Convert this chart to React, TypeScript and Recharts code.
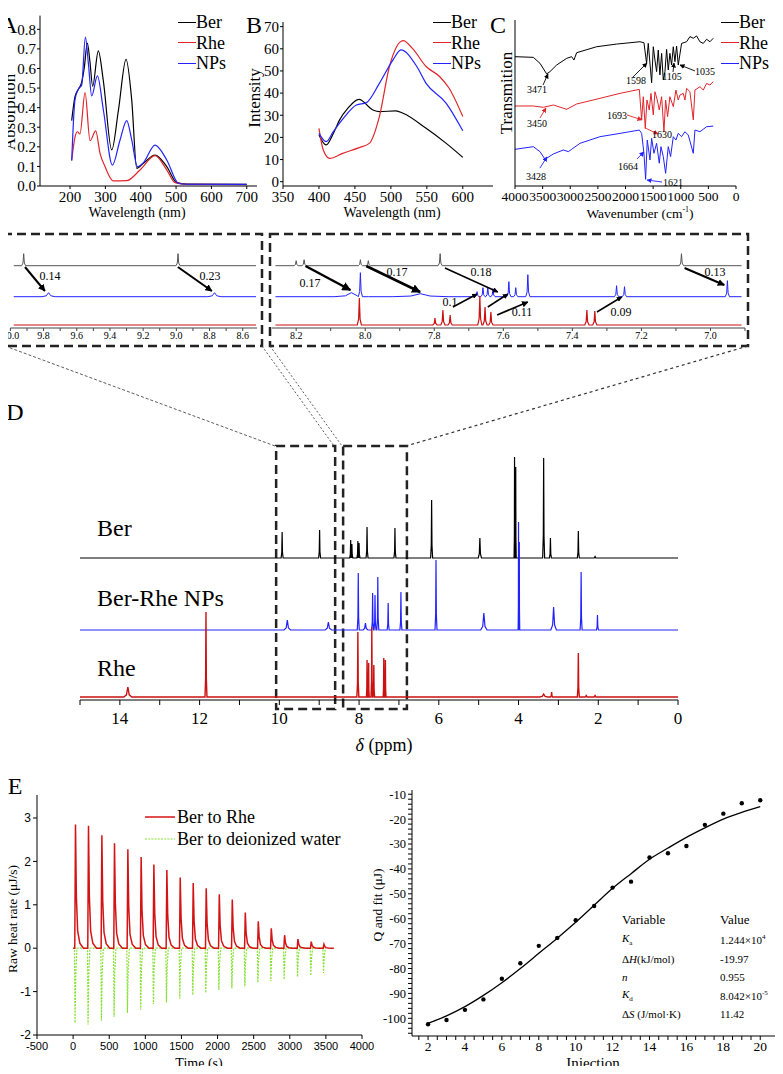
import React from 'react'
import { LineChart, ComposedChart, Line, XAxis, YAxis, ReferenceLine, ReferenceArea } from 'recharts'

const SERIF = '"Liberation Serif", "Times New Roman", serif'
const SANS = '"Liberation Sans", Arial, sans-serif'

const RED = '#e0262b'
const BLUE = '#2222ff'
const NMR_RED = '#cc1111'
const NMR_GREY = '#555555'
const ITC_RED = '#d41414'
const ITC_GREEN = '#88e035'

// A: UV-vis absorption (nm, abs)
const uvBer: [number, number][] = [
  [204.7, 0.334], [214, 0.456], [223.6, 0.494], [233, 0.53], [240, 0.6], [249, 0.73], [256, 0.64], [264, 0.51],
  [280, 0.69], [294, 0.54], [318, 0.184], [337, 0.388], [358.5, 0.647], [374.5, 0.44], [388.7, 0.09],
  [407.5, 0.116], [440.6, 0.158], [473.6, 0.099], [502, 0.017], [530, 0.01], [700, 0.008],
]
const uvRhe: [number, number][] = [
  [204.7, 0.13], [214, 0.25], [220.8, 0.277], [228, 0.266], [242.5, 0.477], [256.6, 0.231], [272.6, 0.281],
  [284.9, 0.167], [299, 0.099], [322.6, 0.026], [360, 0.027], [398, 0.082], [440.6, 0.155], [473.6, 0.082],
  [497, 0.017], [530, 0.009], [700, 0.007],
]
const uvNps: [number, number][] = [
  [204.7, 0.13], [214, 0.44], [223.6, 0.494], [233, 0.516], [243.4, 0.76], [251.9, 0.626], [261.3, 0.46],
  [277.4, 0.562], [294.3, 0.388], [319.8, 0.107], [341.5, 0.235], [360.4, 0.334], [374.5, 0.235], [390.6, 0.099],
  [407.5, 0.119], [440.6, 0.209], [473.6, 0.133], [506.6, 0.014], [530, 0.009], [700, 0.008],
]
const uvTicks = [200, 300, 400, 500, 600, 700]
const uvYTicks = [0, 0.1, 0.2, 0.3, 0.4, 0.5, 0.6, 0.7, 0.8]

// B: fluorescence (nm, intensity)
const flBer: [number, number][] = [
  [400, 21.1], [410, 16.6], [420, 21.8], [428.7, 27.9], [440, 33.1], [455.6, 37.2], [475, 32.4], [484, 31.6],
  [507, 32], [517, 30.9], [549, 24.1], [577, 17.3], [600, 11],
]
const flRhe: [number, number][] = [
  [400, 24.1], [406, 14.3], [415, 10.5], [433, 12.8], [456, 15.4], [470, 17.3], [484, 29.4], [498, 52],
  [517, 63.7], [530, 60.2], [549, 52], [568, 47.4], [581, 42.2], [600, 29.4],
]
const flNps: [number, number][] = [
  [400, 21.8], [410, 18.1], [420, 22.6], [433, 28.2], [452, 34.6], [466, 35.7], [484, 44.4], [503, 55],
  [514, 59.5], [536, 52], [549, 44.4], [577, 35.4], [600, 23],
]
const flTicks = [350, 400, 450, 500, 550, 600]
const flYTicks = [0, 10, 20, 30, 40, 50, 60, 70]

// C: FTIR (cm-1, transmission, arbitrary offset units)
const irBer: [number, number][] = [
  [4000, 77.9], [3668, 77.5], [3548, 73.9], [3427, 67.5], [3367, 68.9], [3246, 72.9], [3065, 76.9], [2975, 77.9],
  [2933, 75.9], [2884, 80.3], [2522, 83.9], [2160, 85.5], [1738, 86.9], [1666, 86.3], [1618, 73.9], [1588, 85.9],
  [1527, 62.2], [1497, 83.9], [1467, 75.9], [1437, 68.9], [1407, 81.9], [1377, 66.9], [1346, 79.9], [1316, 63.9],
  [1286, 68.9], [1256, 82.3], [1226, 69.9], [1196, 79.9], [1166, 72.9], [1135, 83.9], [1105, 74.9], [1075, 84.3],
  [1045, 72.9], [985, 85.9], [894, 86.9], [834, 90], [773, 89], [713, 90.4], [653, 86.9], [592, 85.9],
  [532, 88.4], [472, 86.9], [412, 89],
]
const irRhe: [number, number][] = [
  [4000, 48.2], [3668, 48.2], [3487, 47.4], [3306, 48.8], [3065, 46.2], [2884, 49.4], [2462, 52.8], [2100, 55.8],
  [1750, 58.2], [1708, 39.8], [1678, 53.8], [1642, 34.7], [1612, 51.8], [1570, 45.8], [1539, 55.8], [1497, 42.8],
  [1467, 56.8], [1425, 51.8], [1389, 45.8], [1346, 53.8], [1304, 32.7], [1274, 51.8], [1238, 41.8], [1196, 53.8],
  [1135, 47.8], [1087, 57.8], [1045, 51.8], [1015, 54.8], [955, 55.8], [924, 51.8], [894, 58.8], [834, 56.8],
  [773, 39.8], [743, 57.8], [653, 59.8], [592, 57.8], [532, 61.8], [472, 60.8], [412, 62.9],
]
const irNps: [number, number][] = [
  [4000, 22.1], [3668, 23.7], [3548, 20.7], [3457, 16.1], [3306, 19.3], [3125, 21.7], [3035, 20.7], [2975, 22.1],
  [2824, 25.7], [2462, 29.7], [2100, 31.7], [1750, 33.7], [1708, 31.7], [1666, 19.7], [1636, 4], [1606, 27.7],
  [1557, 15.7], [1527, 28.7], [1485, 19.7], [1437, 25.7], [1389, 13.7], [1358, 23.7], [1316, 17.7], [1274, 7.6],
  [1226, 23.7], [1184, 17.7], [1135, 29.7], [1087, 27.7], [1045, 31.7], [985, 29.7], [924, 32.7], [864, 30.7],
  [773, 19.7], [743, 33.7], [653, 32.7], [532, 35.7], [412, 36.1],
]
const irTicks = [0, 500, 1000, 1500, 2000, 2500, 3000, 3500, 4000]
// [label, x1, y1, x2, y2, series]
const irNotes: [string, number, number, number, number, string][] = [
  ['3471', 3493, 60.8, 3403, 67.5, 'k'],
  ['1598', 1864, 65.7, 1611, 74.1, 'k'],
  ['1105', 1140, 68.7, 1122, 74.1, 'k'],
  ['1035', 742, 69.3, 1014, 72.9, 'k'],
  ['3450', 3548, 41, 3439, 47, 'r'],
  ['1693', 1973, 42.8, 1701, 39.8, 'r'],
  ['1630', 1647, 35, 1412, 31.3, 'r'],
  ['3428', 3548, 10.8, 3421, 17.5, 'b'],
  ['1664', 1792, 16.3, 1665, 20.5, 'b'],
  ['1621', 1339, 2.4, 1611, 3.6, 'b'],
]
const irNoteText: [string, number, number][] = [
  ['3471', 537, 90], ['1598', 636, 81], ['1105', 672, 77], ['1035', 705, 72],
  ['3450', 537, 124], ['1693', 617, 116], ['1630', 662, 135],
  ['3428', 536, 177], ['1664', 628, 167], ['1621', 673, 183],
]

// D: 1H NMR peaks [ppm, height, half-width?]
type Peak = [number, number, number?]
const nmrBer: Peak[] = [
  [9.93, 26], [8.99, 28], [8.21, 18], [8.18, 14], [8.03, 17], [8.0, 15], [7.8, 31], [7.1, 30], [6.18, 58],
  [4.97, 20, 0.04], [4.1, 101, 0.012], [4.07, 91, 0.012], [3.37, 100], [3.2, 20], [2.5, 27], [2.08, 2],
]
const nmrNps: Peak[] = [
  [9.8, 10, 0.08], [8.77, 8, 0.08], [8.02, 57], [7.84, 7, 0.06], [7.66, 37], [7.6, 35], [7.53, 53], [7.27, 27],
  [6.95, 38], [6.07, 70], [4.87, 17, 0.08], [4.0, 108, 0.01], [3.98, 88, 0.01], [3.12, 23, 0.07], [2.43, 58],
  [2.02, 15],
]
const nmrRhe: Peak[] = [
  [13.8, 10, 0.1], [11.84, 85], [8.03, 65], [7.8, 37, 0.015], [7.76, 34, 0.015], [7.68, 70, 0.02], [7.63, 32, 0.02],
  [7.38, 39, 0.015], [7.34, 37, 0.015], [3.37, 3, 0.1], [3.17, 5], [2.5, 44], [2.3, 2], [2.08, 2],
]
const nmrTicks = [0, 1, 2, 3, 4, 5, 6, 7, 8, 9, 10, 11, 12, 13, 14, 15]

// inset spectra
const insetLeftBer: Peak[] = [[9.92, 12, 0.012], [8.99, 12, 0.012]]
const insetLeftNps: Peak[] = [[9.77, 4, 0.04], [8.77, 4, 0.04]]
const insetLeftRhe: Peak[] = []
const insetRightBer: Peak[] = [[8.2, 5], [8.177, 6], [8.014, 6], [7.991, 5], [7.783, 12], [7.084, 12]]
const insetRightNps: Peak[] = [
  [8.04, 4, 0.05], [8.014, 24], [7.84, 3, 0.08], [7.676, 5], [7.659, 9], [7.645, 9], [7.63, 8], [7.584, 15],
  [7.564, 9], [7.529, 22], [7.272, 11], [7.249, 10], [6.951, 16],
]
const insetRightRhe: Peak[] = [
  [8.017, 27], [7.798, 7], [7.775, 15], [7.754, 10], [7.668, 29], [7.653, 18], [7.636, 13], [7.358, 15], [7.335, 14],
]
const insetLeftTicks = [8.6, 8.7, 8.8, 8.9, 9.0, 9.1, 9.2, 9.3, 9.4, 9.5, 9.6, 9.7, 9.8, 9.9, 10.0]
const insetRightTicks = [6.9, 7.0, 7.1, 7.2, 7.3, 7.4, 7.5, 7.6, 7.7, 7.8, 7.9, 8.0, 8.1, 8.2]
// [x1, y1, x2, y2, width]
const leftShiftArrows: [number, number, number, number, number][] = [
  [9.912, 61, 9.792, 37, 2], [8.991, 61, 8.786, 37, 2],
]
const rightShiftArrows: [number, number, number, number, number][] = [
  [8.173, 62, 8.043, 38, 2.5], [7.997, 62, 7.841, 36, 2.5], [7.769, 60, 7.616, 36, 1.5], [7.746, 21, 7.676, 34, 1.5],
  [7.645, 21, 7.587, 34, 1.5], [7.618, 13, 7.529, 26, 1.8], [7.329, 16, 7.257, 31, 1.5], [7.075, 60, 6.96, 43, 2],
]
const shiftLabels: [string, number, number][] = [
  ['0.14', 50, 276], ['0.23', 210, 276], ['0.17', 310, 283], ['0.17', 397, 272], ['0.18', 481, 272],
  ['0.1', 450, 302], ['0.11', 522, 312], ['0.09', 621, 312], ['0.13', 715, 272],
]

// E: ITC raw data
const itcTimes = [23, 203, 388, 563, 748, 932, 1108, 1288, 1473, 1653, 1833, 2014, 2194, 2374, 2554, 2734, 2918, 3103, 3287, 3463]
const itcRhe = [2.85, 2.82, 2.6, 2.42, 2.28, 2.1, 1.93, 1.8, 1.63, 1.5, 1.38, 1.24, 1.12, 0.82, 0.62, 0.46, 0.3, 0.21, 0.15, 0.09]
const itcWater = [-1.72, -1.76, -1.67, -1.58, -1.49, -1.42, -1.29, -1.25, -1.16, -1.08, -1.03, -0.96, -0.93, -0.88, -0.79, -0.76, -0.72, -0.66, -0.63, -0.57]
const itcTicks = [-500, 0, 500, 1000, 1500, 2000, 2500, 3000, 3500, 4000]
const itcYTicks = [-2, -1, 0, 1, 2, 3]

// E: integrated heats
const injection = [2, 3, 4, 5, 6, 7, 8, 9, 10, 11, 12, 13, 14, 15, 16, 17, 18, 19, 20]
const heatQ = [-102.4, -100.7, -96.6, -92.4, -84.1, -77.9, -70.9, -67.7, -60.6, -54.9, -47.5, -45.1, -35.4, -33.7, -30.8, -22.3, -17.8, -13.6, -12.4]
const heatFit = [-102, -99, -95.3, -90.8, -85.7, -80, -73.9, -67.8, -61.4, -54.6, -47.8, -41.9, -36.1, -31.6, -27.3, -23.5, -20, -17.3, -15]

// peak outline as fraction of half-width / height
const PEAK_SHAPE = [[-1, 0], [-0.35, 0.22], [0, 1], [0.35, 0.22], [1, 0]]
const RHE_SHAPE = [[0, 0], [10, 1], [22, 0.42], [40, 0.14], [70, 0.04], [120, 0]]
const WATER_SHAPE = [[-4, 0], [4, 1], [14, 0.35], [30, 0]]

const toXY = (arr: [number, number][]) => arr.map(([x, y]) => ({ x, y }))

function spectrum(peaks: Peak[], base: number, from: number, to: number, w0: number) {
  const pts = [{ x: from, y: base }, { x: to, y: base }]
  peaks.forEach(([p, h, w]) => {
    const hw = w ?? w0
    PEAK_SHAPE.forEach(([dx, f]) => pts.push({ x: p + dx * hw, y: base + f * h }))
  })
  return pts.sort((a, b) => a.x - b.x)
}

function thermogram(times: number[], amps: number[], shape: number[][], from: number, to: number) {
  const pts = [{ x: from, y: 0 }]
  times.forEach((t, i) => shape.forEach(([dt, f]) => pts.push({ x: t + dt, y: f * amps[i] })))
  pts.push({ x: to, y: 0 })
  return pts
}

const tick = (size: number, family = SERIF) => ({ fontSize: size, fontFamily: family, fill: '#000' })

function Txt({ x, y, size, children, anchor = 'middle', rotate, italic, family = SERIF }: any) {
  const tx = anchor === 'middle' ? '-50%' : anchor === 'end' ? '-100%' : '0'
  return (
    <div
      style={{
        position: 'absolute', left: x, top: y, lineHeight: 1, whiteSpace: 'nowrap', color: '#000',
        transform: `translate(${tx}, -50%)${rotate ? ` rotate(${rotate}deg)` : ''}`,
        fontSize: size, fontFamily: family, fontStyle: italic ? 'italic' : 'normal',
      }}
    >
      {children}
    </div>
  )
}

function Legend3({ x, y }: { x: number; y: number }) {
  const rows: [string, string][] = [['Ber', '#000'], ['Rhe', RED], ['NPs', BLUE]]
  return (
    <>
      {rows.map(([name, color], i) => (
        <div key={name} style={{ position: 'absolute', left: x, top: y + i * 20.5, display: 'flex', alignItems: 'center', transform: 'translateY(-50%)' }}>
          <div style={{ width: 18, borderTop: `1.5px solid ${color}` }} />
          <span style={{ fontFamily: SERIF, fontSize: 18, lineHeight: 1 }}>{name}</span>
        </div>
      ))}
    </>
  )
}

const irColor: Record<string, string> = { k: '#000', r: RED, b: BLUE }

export default function App() {
  const berD = spectrum(nmrBer, 142, 0, 15, 0.025)
  const npsD = spectrum(nmrNps, 70, 0, 15, 0.025)
  const rheD = spectrum(nmrRhe, 3, 0, 15, 0.025)
  const lBer = spectrum(insetLeftBer, 62.3, 8.52, 9.98, 0.012)
  const lNps = spectrum(insetLeftNps, 31.3, 8.52, 9.98, 0.04)
  const lRhe = spectrum(insetLeftRhe, 3, 8.52, 9.98, 0.01)
  const rBer = spectrum(insetRightBer, 62.3, 6.91, 8.26, 0.006)
  const rNps = spectrum(insetRightNps, 31.3, 6.91, 8.26, 0.006)
  const rRhe = spectrum(insetRightRhe, 3, 6.91, 8.26, 0.006)
  const rheITC = thermogram(itcTimes, itcRhe, RHE_SHAPE, 0, 3610)
  const waterITC = thermogram(itcTimes, itcWater, WATER_SHAPE, 0, 3500)
  const qPts = injection.map((x, i) => ({ x, y: heatQ[i] }))
  const fitPts = injection.map((x, i) => ({ x, y: heatFit[i] }))
  const tenths = (v: number) => (Math.round(v * 10) % 2 === 0 ? v.toFixed(1) : '')

  return (
    <div style={{ position: 'relative', width: 783, height: 1074, margin: -8, background: '#fff', overflow: 'hidden', fontFamily: SERIF }}>
      <style>{`
        .serif svg text { font-family: "Liberation Serif", "Times New Roman", serif !important; }
        .sans svg text { font-family: "Liberation Sans", Arial, sans-serif !important; }
      `}</style>
      <svg width={0} height={0} style={{ position: 'absolute' }}>
        <defs>
          <marker id="ah-k" viewBox="0 0 10 10" refX="9" refY="5" markerWidth="3.6" markerHeight="3.6" orient="auto">
            <path d="M0,0 L10,5 L0,10 z" fill="#000" />
          </marker>
          {Object.entries(irColor).map(([k, c]) => (
            <marker key={k} id={`ah-s-${k}`} viewBox="0 0 10 10" refX="9" refY="5" markerWidth="5" markerHeight="5" markerUnits="userSpaceOnUse" orient="auto">
              <path d="M0,0 L10,5 L0,10 z" fill={c} />
            </marker>
          ))}
        </defs>
      </svg>

      {/* A */}
      <div className="serif" style={{ position: 'absolute', left: 0, top: 0 }}>
        <LineChart width={262} height={220} margin={{ top: 15.6, right: 5, bottom: 0, left: 0 }}>
          <XAxis type="number" dataKey="x" domain={[115, 729]} ticks={uvTicks} allowDataOverflow height={34} stroke="#000" tick={tick(15)} tickSize={3} interval={0} />
          <YAxis type="number" domain={[0, 0.87]} ticks={uvYTicks} tickFormatter={(v: number) => v.toFixed(1)} allowDataOverflow width={40} stroke="#000" tick={tick(15)} tickSize={3} tickMargin={1} interval={0} />
          <Line data={toXY(uvBer)} dataKey="y" type="monotone" stroke="#000" strokeWidth={1.2} dot={false} activeDot={false} isAnimationActive={false} />
          <Line data={toXY(uvRhe)} dataKey="y" type="monotone" stroke={RED} strokeWidth={1.2} dot={false} activeDot={false} isAnimationActive={false} />
          <Line data={toXY(uvNps)} dataKey="y" type="monotone" stroke={BLUE} strokeWidth={1.2} dot={false} activeDot={false} isAnimationActive={false} />
        </LineChart>
      </div>

      {/* B */}
      <div className="serif" style={{ position: 'absolute', left: 243, top: 0 }}>
        <LineChart width={250} height={220} margin={{ top: 22, right: 0, bottom: 0, left: 0 }}>
          <XAxis type="number" dataKey="x" domain={[350, 642]} ticks={flTicks} allowDataOverflow height={34} stroke="#000" tick={tick(15)} tickSize={3} interval={0} />
          <YAxis type="number" domain={[-1.94, 72.1]} ticks={flYTicks} allowDataOverflow width={40} stroke="#000" tick={tick(15)} tickSize={3} tickMargin={1} interval={0} />
          <Line data={toXY(flBer)} dataKey="y" type="monotone" stroke="#000" strokeWidth={1.2} dot={false} activeDot={false} isAnimationActive={false} />
          <Line data={toXY(flRhe)} dataKey="y" type="monotone" stroke={RED} strokeWidth={1.2} dot={false} activeDot={false} isAnimationActive={false} />
          <Line data={toXY(flNps)} dataKey="y" type="monotone" stroke={BLUE} strokeWidth={1.2} dot={false} activeDot={false} isAnimationActive={false} />
        </LineChart>
      </div>

      {/* C */}
      <div className="serif" style={{ position: 'absolute', left: 475, top: 0 }}>
        <LineChart width={267} height={220} margin={{ top: 20, right: 6, bottom: 0, left: 0 }}>
          <XAxis type="number" dataKey="x" domain={[0, 4000]} reversed ticks={irTicks} allowDataOverflow height={34} stroke="#000" tick={tick(13.5)} tickSize={3} interval={0} />
          <YAxis type="number" domain={[0, 100]} allowDataOverflow width={40} stroke="#000" tick={false} tickLine={false} />
          <Line data={toXY(irBer)} dataKey="y" type="linear" stroke="#000" strokeWidth={1} dot={false} activeDot={false} isAnimationActive={false} />
          <Line data={toXY(irRhe)} dataKey="y" type="linear" stroke={RED} strokeWidth={1} dot={false} activeDot={false} isAnimationActive={false} />
          <Line data={toXY(irNps)} dataKey="y" type="linear" stroke={BLUE} strokeWidth={1} dot={false} activeDot={false} isAnimationActive={false} />
          {irNotes.map(([label, x1, y1, x2, y2, s]) => (
            <ReferenceLine key={label} segment={[{ x: x1, y: y1 }, { x: x2, y: y2 }]} stroke={irColor[s]} strokeWidth={0.9} markerEnd={`url(#ah-s-${s})`} ifOverflow="visible" />
          ))}
        </LineChart>
      </div>

      {/* inset left */}
      <div className="serif" style={{ position: 'absolute', left: 0, top: 230 }}>
        <LineChart width={262} height={118} margin={{ top: 10, right: 5, bottom: 0, left: 10.4 }}>
          <XAxis type="number" dataKey="x" domain={[8.514, 10.0]} reversed ticks={insetLeftTicks} tickFormatter={tenths} allowDataOverflow height={20} stroke="#444" tick={tick(10)} tickSize={3} tickMargin={1} interval={0} />
          <YAxis type="number" domain={[0, 88]} hide allowDataOverflow />
          <Line data={lBer} dataKey="y" type="linear" stroke={NMR_GREY} strokeWidth={1} dot={false} activeDot={false} isAnimationActive={false} />
          <Line data={lNps} dataKey="y" type="linear" stroke={BLUE} strokeWidth={1} dot={false} activeDot={false} isAnimationActive={false} />
          <Line data={lRhe} dataKey="y" type="linear" stroke={NMR_RED} strokeWidth={1.2} dot={false} activeDot={false} isAnimationActive={false} />
          {leftShiftArrows.map(([x1, y1, x2, y2, w], i) => (
            <ReferenceLine key={i} segment={[{ x: x1, y: y1 }, { x: x2, y: y2 }]} stroke="#000" strokeWidth={w} markerEnd="url(#ah-k)" ifOverflow="visible" />
          ))}
        </LineChart>
      </div>

      {/* inset right */}
      <div className="serif" style={{ position: 'absolute', left: 262, top: 230 }}>
        <LineChart width={488} height={118} margin={{ top: 10, right: 5, bottom: 0, left: 10 }}>
          <XAxis type="number" dataKey="x" domain={[6.90, 8.27]} reversed ticks={insetRightTicks} tickFormatter={tenths} allowDataOverflow height={20} stroke="#444" tick={tick(10)} tickSize={3} tickMargin={1} interval={0} />
          <YAxis type="number" domain={[0, 88]} hide allowDataOverflow />
          <Line data={rBer} dataKey="y" type="linear" stroke={NMR_GREY} strokeWidth={1} dot={false} activeDot={false} isAnimationActive={false} />
          <Line data={rNps} dataKey="y" type="linear" stroke={BLUE} strokeWidth={1} dot={false} activeDot={false} isAnimationActive={false} />
          <Line data={rRhe} dataKey="y" type="linear" stroke={NMR_RED} strokeWidth={1.2} dot={false} activeDot={false} isAnimationActive={false} />
          {rightShiftArrows.map(([x1, y1, x2, y2, w], i) => (
            <ReferenceLine key={i} segment={[{ x: x1, y: y1 }, { x: x2, y: y2 }]} stroke="#000" strokeWidth={w} markerEnd="url(#ah-k)" ifOverflow="visible" />
          ))}
        </LineChart>
      </div>

      {/* D */}
      <div className="serif" style={{ position: 'absolute', left: 40, top: 436 }}>
        <LineChart width={653} height={314} margin={{ top: 10, right: 15, bottom: 0, left: 40 }}>
          <XAxis type="number" dataKey="x" domain={[0, 15]} reversed ticks={nmrTicks} tickFormatter={(v: number) => (v % 2 === 0 ? String(v) : '')} allowDataOverflow height={50} stroke="#000" tick={tick(17)} tickSize={5} tickMargin={7} interval={0} />
          <YAxis type="number" domain={[0, 254]} hide allowDataOverflow />
          <ReferenceArea x1={10.08} x2={8.6} y1={-9} y2={254} fill="none" fillOpacity={0} stroke="#222" strokeWidth={2.5} strokeDasharray="9 5" ifOverflow="visible" />
          <ReferenceArea x1={8.4} x2={6.8} y1={-9} y2={254} fill="none" fillOpacity={0} stroke="#222" strokeWidth={2.5} strokeDasharray="9 5" ifOverflow="visible" />
          <Line data={berD} dataKey="y" type="linear" stroke="#000" strokeWidth={1.2} dot={false} activeDot={false} isAnimationActive={false} />
          <Line data={npsD} dataKey="y" type="linear" stroke={BLUE} strokeWidth={1.2} dot={false} activeDot={false} isAnimationActive={false} />
          <Line data={rheD} dataKey="y" type="linear" stroke={NMR_RED} strokeWidth={1.4} dot={false} activeDot={false} isAnimationActive={false} />
        </LineChart>
      </div>

      {/* E left */}
      <div className="sans" style={{ position: 'absolute', left: 0, top: 785 }}>
        <LineChart width={382} height={280} margin={{ top: 10, right: 20, bottom: 0, left: 0 }}>
          <XAxis type="number" dataKey="x" domain={[-500, 4000]} ticks={itcTicks} allowDataOverflow height={30} stroke="#000" tick={tick(11, SANS)} tickSize={4} tickMargin={3} interval={0} />
          <YAxis type="number" domain={[-2, 3.53]} ticks={itcYTicks} allowDataOverflow width={37} stroke="#000" tick={tick(12, SANS)} tickSize={4} interval={0} />
          <Line data={waterITC} dataKey="y" type="linear" stroke={ITC_GREEN} strokeWidth={1.2} strokeDasharray="2 1.2" dot={false} activeDot={false} isAnimationActive={false} />
          <Line data={rheITC} dataKey="y" type="linear" stroke={ITC_RED} strokeWidth={1.5} dot={false} activeDot={false} isAnimationActive={false} />
        </LineChart>
      </div>

      {/* E right */}
      <div className="serif" style={{ position: 'absolute', left: 372, top: 780 }}>
        <ComposedChart width={411} height={284} margin={{ top: 10, right: 8, bottom: 0, left: 0 }}>
          <XAxis type="number" dataKey="x" domain={[1.13, 20.8]} ticks={Array.from({ length: 38 }, (_, i) => 1.5 + i * 0.5)} tickFormatter={(v: number) => (v % 2 === 0 ? String(v) : '')} allowDataOverflow height={28} stroke="#000" tick={tick(13.5)} tickSize={4} tickMargin={1} interval={0} />
          <YAxis type="number" domain={[-107.1, -8.3]} ticks={Array.from({ length: 49 }, (_, i) => -106 + i * 2)} tickFormatter={(v: number) => (v % 10 === 0 ? String(v) : '')} allowDataOverflow width={40} stroke="#000" tick={tick(12.5)} tickSize={4} interval={0} />
          <Line data={fitPts} dataKey="y" type="monotone" stroke="#000" strokeWidth={1.3} dot={false} activeDot={false} isAnimationActive={false} />
          <Line data={qPts} dataKey="y" stroke="none" dot={{ r: 2.2, fill: '#000', stroke: 'none' }} activeDot={false} isAnimationActive={false} />
        </ComposedChart>
      </div>

      {/* decorations: inset frames and zoom connectors */}
      <svg width={783} height={1074} style={{ position: 'absolute', left: 0, top: 0, pointerEvents: 'none' }}>
        <rect x={3} y={234} width={259} height={112} fill="none" stroke="#222" strokeWidth={2.5} strokeDasharray="9 5" />
        <rect x={270} y={234} width={478} height={112} fill="none" stroke="#222" strokeWidth={2.5} strokeDasharray="9 5" />
        <line x1={5} y1={346} x2={275} y2={446} stroke="#333" strokeWidth={0.8} strokeDasharray="3 2" />
        <line x1={262} y1={346} x2={334} y2={446} stroke="#333" strokeWidth={0.8} strokeDasharray="2 2" />
        <line x1={270} y1={346} x2={342} y2={446} stroke="#333" strokeWidth={0.8} strokeDasharray="2 2" />
        <line x1={748} y1={346} x2={406} y2={446} stroke="#333" strokeWidth={1.2} strokeDasharray="3 3" />
        <line x1={145} y1={817} x2={175} y2={817} stroke={ITC_RED} strokeWidth={1.5} />
        <line x1={145} y1={839} x2={175} y2={839} stroke={ITC_GREEN} strokeWidth={1.2} strokeDasharray="2 1.2" />
      </svg>

      {/* panel letters and titles */}
      <Txt x={9} y={25} size={24}>A</Txt>
      <Txt x={254} y={25} size={24}>B</Txt>
      <Txt x={498} y={25} size={24}>C</Txt>
      <Txt x={15} y={412} size={24}>D</Txt>
      <Txt x={15} y={786} size={24}>E</Txt>

      <Txt x={9} y={112} size={17} rotate={-90}>Absorption</Txt>
      <Txt x={254} y={98} size={17} rotate={-90}>Intensity</Txt>
      <Txt x={506} y={93} size={17} rotate={-90}>Transmition</Txt>
      <Txt x={137} y={213} size={14}>Wavelength (nm)</Txt>
      <Txt x={392} y={213} size={14}>Wavelength (nm)</Txt>
      <Txt x={640} y={213} size={13.5}>Wavenumber (cm<sup style={{ fontSize: 8 }}>-1</sup>)</Txt>
      <Legend3 x={178} y={22} />
      <Legend3 x={433} y={22} />
      <Legend3 x={721} y={22} />
      {irNoteText.map(([t, x, y], i) => <Txt key={i} x={x} y={y} size={10}>{t}</Txt>)}

      {shiftLabels.map(([t, x, y], i) => <Txt key={i} x={x} y={y} size={12}>{t}</Txt>)}

      <Txt x={97} y={528} size={24} anchor="start">Ber</Txt>
      <Txt x={97} y={598} size={24} anchor="start">Ber-Rhe NPs</Txt>
      <Txt x={97} y={668} size={24} anchor="start">Rhe</Txt>
      <Txt x={384} y={745} size={18}><i>δ</i> (ppm)</Txt>

      <Txt x={177} y={817} size={18} anchor="start">Ber to Rhe</Txt>
      <Txt x={177} y={839} size={18} anchor="start">Ber to deionized water</Txt>
      <Txt x={13} y={919} size={13.5} rotate={-90}>Raw heat rate (μJ/s)</Txt>
      <Txt x={199} y={1064} size={14}>Time (s)</Txt>
      <Txt x={378} y={905} size={13.5} rotate={-90}>Q and fit (μJ)</Txt>
      <Txt x={593} y={1063} size={15}>Injection</Txt>

      <Txt x={622} y={919} size={13} anchor="start">Variable</Txt>
      <Txt x={720} y={919} size={13} anchor="start">Value</Txt>
      <Txt x={622} y={940} size={11} anchor="start"><i>K</i><sub style={{ fontSize: 7 }}>a</sub></Txt>
      <Txt x={622} y={959} size={11} anchor="start">Δ<i>H</i>(kJ/mol)</Txt>
      <Txt x={622} y={977} size={11} anchor="start"><i>n</i></Txt>
      <Txt x={622} y={996} size={11} anchor="start"><i>K</i><sub style={{ fontSize: 7 }}>d</sub></Txt>
      <Txt x={622} y={1014} size={11} anchor="start">Δ<i>S</i> (J/mol·K)</Txt>
      <Txt x={720} y={940} size={11} anchor="start">1.244×10<sup style={{ fontSize: 7 }}>4</sup></Txt>
      <Txt x={720} y={959} size={11} anchor="start">-19.97</Txt>
      <Txt x={720} y={977} size={11} anchor="start">0.955</Txt>
      <Txt x={720} y={996} size={11} anchor="start">8.042×10<sup style={{ fontSize: 7 }}>-5</sup></Txt>
      <Txt x={720} y={1014} size={11} anchor="start">11.42</Txt>
    </div>
  )
}
